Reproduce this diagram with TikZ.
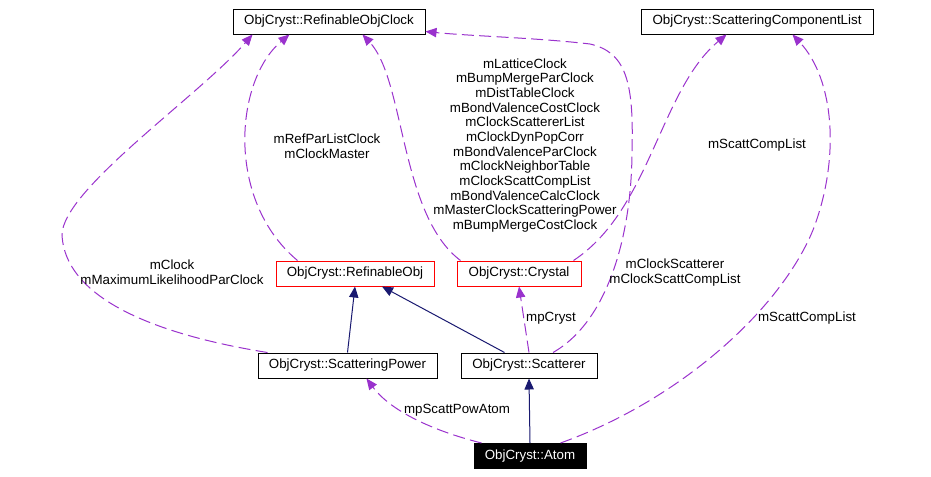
\documentclass[tikz,border=0pt]{standalone}
\usepackage{fontspec}
\setmainfont{Liberation Sans}
\usetikzlibrary{arrows.meta,calc}

\definecolor{usecol}{RGB}{154,50,205}
\definecolor{inhcol}{RGB}{25,25,112}

\begin{document}
\begin{tikzpicture}[x=0.75pt,y=-0.75pt]
\tikzstyle{every node}+=[font=\fontsize{10}{11}\selectfont]
\tikzstyle{cls}=[draw=black,line width=0.75pt,minimum height=18.75pt,inner sep=0pt]
\tikzstyle{incomplete}=[cls,draw=red]
\tikzstyle{focus}=[cls,fill=black,text=white]
\tikzstyle{use}=[draw=usecol,line width=0.75pt,dash pattern=on 9pt off 4pt,-{Triangle[length=8.25pt,width=7pt,fill=usecol]}]
\tikzstyle{inherit}=[draw=inhcol,line width=0.75pt,-{Triangle[length=8.25pt,width=7pt,fill=inhcol]}]
\tikzstyle{lbl}=[align=center,inner sep=0pt]
\useasboundingbox (0,0) rectangle (931,476);

% class nodes
\node[cls,minimum width=144pt] (clock) at (329,21.5) {ObjCryst::RefinableObjClock};
\node[cls,minimum width=174pt] (scl) at (757,21.5) {ObjCryst::ScatteringComponentList};
\node[incomplete,minimum width=118.5pt] (robj) at (355,273.5) {ObjCryst::RefinableObj};
\node[incomplete,minimum width=93pt] (crystal) at (519,273.5) {ObjCryst::Crystal};
\node[cls,minimum width=134.25pt] (spow) at (347.5,365.5) {ObjCryst::ScatteringPower};
\node[cls,minimum width=102pt] (scat) at (529,365.5) {ObjCryst::Scatterer};
\node[focus,minimum width=84pt] (atom) at (530,456) {ObjCryst::Atom};

% inheritance
\draw[inherit] (spow.north) -- (robj.south);
\draw[inherit] ($(scat.north west)+(44,0)$) -- ($(robj.south)+(27,0)$);
\draw[inherit] (atom.north) -- (scat.south);

% clock members
\draw[use] ($(spow.north west)+(10,0)$) .. controls (190,340) and (66,310) .. (62,235)
  .. controls (62,190) and (200,95) .. ($(clock.south west)+(20,0)$);
\node[lbl] (lclock) at (172,272.5) {mClock\\mMaximumLikelihoodParClock};

\draw[use] ($(robj.north west)+(22,0)$) .. controls (225,200) and (235,80) .. ($(clock.south west)+(57,0)$);
\node[lbl] (lrobj) at (327,146) {mRefParListClock\\mClockMaster};

\draw[use] ($(crystal.north west)+(4,0)$) .. controls (400,215) and (405,80) .. ($(clock.south west)+(130,0)$);
\node[lbl] (lcrystal) at (525,145.5) {mLatticeClock\\mBumpMergeParClock\\mDistTableClock\\
  mBondValenceCostClock\\mClockScattererList\\mClockDynPopCorr\\mBondValenceParClock\\
  mClockNeighborTable\\mClockScattCompList\\mBondValenceCalcClock\\
  mMasterClockScatteringPower\\mBumpMergeCostClock};

\draw[use] ($(scat.north)+(24,0)$) .. controls (610,320) and (632,230) .. (632,150)
  .. controls (634,80) and (625,52) .. (590,44)
  .. controls (540,38) and (470,36) .. ($(clock.east)+(0,10)$);
\node[lbl] (lscat) at (675,272.5) {mClockScatterer\\mClockScattCompList};

% component lists
\draw[use] ($(crystal.north east)+(-8,0)$) .. controls (650,210) and (660,90) .. ($(scl.south west)+(86,0)$);
\node[lbl] (lscl) at (757,145) {mScattCompList};

\draw[use] ($(atom.north east)+(-26,0)$) .. controls (680,400) and (780,310) .. (813,230)
  .. controls (840,160) and (835,80) .. ($(scl.south west)+(152,0)$);
\node[lbl] (lscl2) at (807,318) {mScattCompList};

% pointers
\draw[use] ($(atom.north west)+(8,0)$) .. controls (430,430) and (390,410) .. ($(spow.south west)+(109,0)$);
\node[lbl] (lspow) at (457,410) {mpScattPowAtom};

\draw[use] (scat.north) -- (crystal.south);
\node[lbl] (lcryst) at (551,318) {mpCryst};
\end{tikzpicture}
\end{document}
